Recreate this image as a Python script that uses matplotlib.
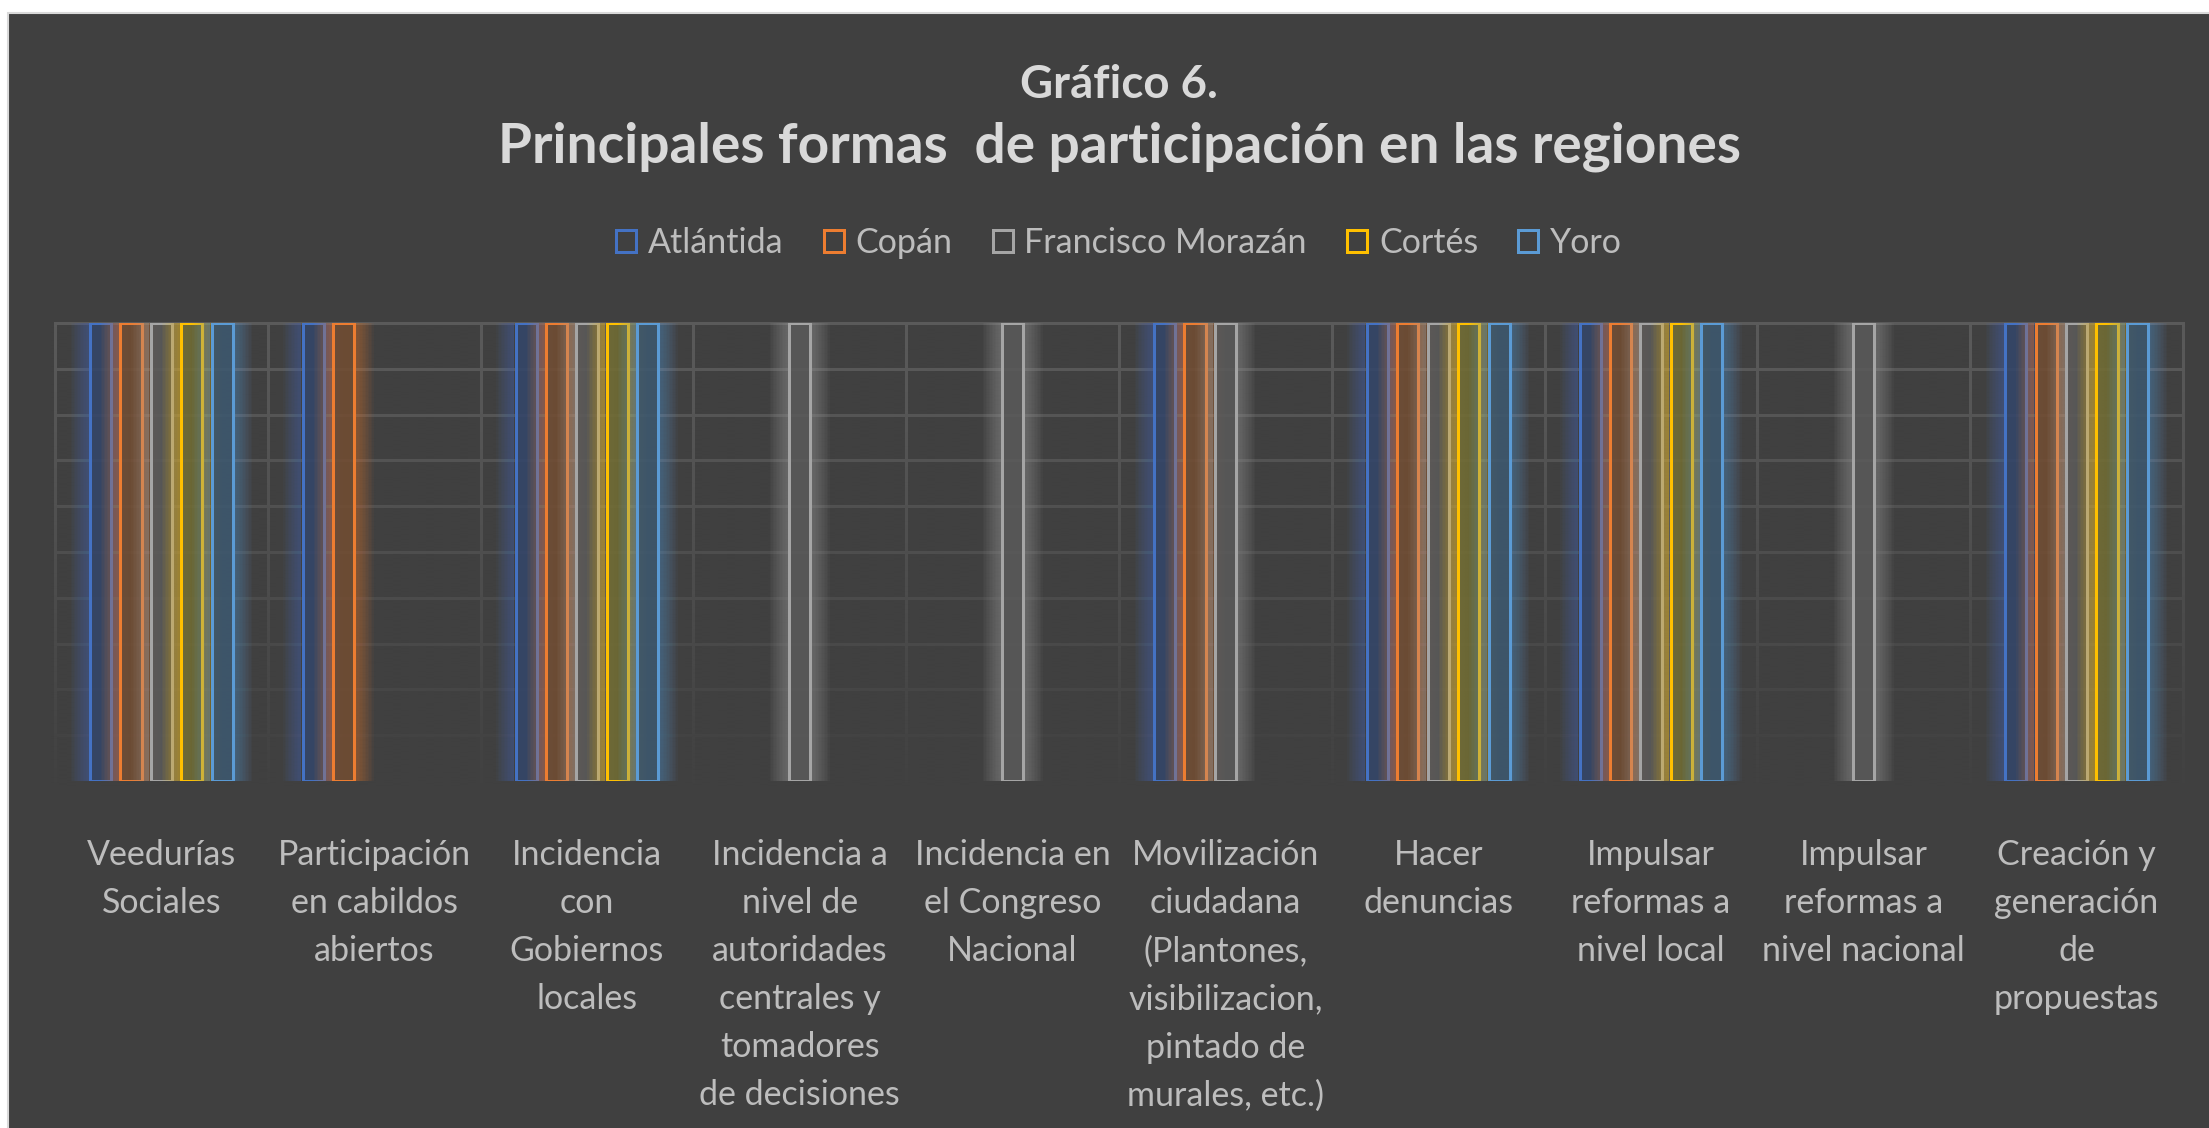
import numpy as np
import matplotlib
matplotlib.use("Agg")
import matplotlib.pyplot as plt
from matplotlib.patches import Patch, Rectangle
from matplotlib.font_manager import FontProperties
from matplotlib.colors import to_rgba

# ---------------- data ----------------
categories = [
    "Veedurías\nSociales",
    "Participación\nen cabildos\nabiertos",
    "Incidencia\ncon\nGobiernos\nlocales",
    "Incidencia a\nnivel de\nautoridades\ncentrales y\ntomadores\nde decisiones",
    "Incidencia en\nel Congreso\nNacional",
    "Movilización\nciudadana\n(Plantones,\nvisibilizacion,\npintado de\nmurales, etc.)",
    "Hacer\ndenuncias",
    "Impulsar\nreformas a\nnivel local",
    "Impulsar\nreformas a\nnivel nacional",
    "Creación y\ngeneración\nde\npropuestas",
]
series_names = ["Atlántida", "Copán", "Francisco Morazán", "Cortés", "Yoro"]
atlantida = [1, 1, 1, 0, 0, 1, 1, 1, 0, 1]
copan = [1, 1, 1, 0, 0, 1, 1, 1, 0, 1]
francisco_morazan = [1, 0, 1, 1, 1, 1, 1, 1, 1, 1]
cortes = [1, 0, 1, 0, 0, 0, 1, 1, 0, 1]
yoro = [1, 0, 1, 0, 0, 0, 1, 1, 0, 1]
series = [atlantida, copan, francisco_morazan, cortes, yoro]

title_line1 = "Gráfico 6."
title_line2 = "Principales formas  de participación en las regiones"

# ---------------- style ----------------
edge_colors = ["#4472C4", "#ED7D31", "#A5A5A5", "#FFC000", "#5B9BD5"]
fill_colors = ["#34466A", "#724D32", "#5A5A5A", "#716C33", "#3D586F"]
BG = "#404040"
GRID = "#5A5A5A"
TITLE_C = "#D9D9D9"
TEXT_C = "#BDBDBD"
FONT = ["Lato", "DejaVu Sans"]

W, H, DPI = 2209, 1128, 100
fig = plt.figure(figsize=(W / DPI, H / DPI), dpi=DPI, facecolor="white")
fig.patches.append(Rectangle((8 / W, -0.05), 1.2, 1.05 - 12.5 / H,
                             transform=fig.transFigure, facecolor=BG,
                             edgecolor="#D9D9D9", lw=1.5, zorder=-10))
renderer = fig.canvas.get_renderer()


def text_w(s, size, weight="normal"):
    t = fig.text(0, 0, s, fontsize=size, family=FONT, fontweight=weight)
    w = t.get_window_extent(renderer).width
    t.remove()
    return w


def fit(s, target, weight="normal"):
    return 20.0 * target / text_w(s, 20, weight)


# plot area in pixels
L, R, T, B = 55, 2183, 323, 781
ax = fig.add_axes([L / W, (H - B) / H, (R - L) / W, (B - T) / H])
ax.patch.set_visible(False)
for s in ax.spines.values():
    s.set_visible(False)
ncat = len(categories)
px_per_unit = (R - L) / ncat

# grid
grid_lw = 3 * 72 / DPI
for yv in np.arange(1, 11) / 10:
    ax.axhline(yv, color=GRID, lw=grid_lw, zorder=1, clip_on=False)
for xv in np.arange(-0.5, ncat, 1.0):
    ax.axvline(xv, color=GRID, lw=grid_lw, zorder=1, clip_on=False)

# fade of grid towards the bottom
n = 256
img = np.zeros((n, 1, 4))
img[..., :3] = to_rgba(BG)[:3]
img[..., 3] = (np.linspace(0, 1, n) ** 1.1)[:, None] * 0.97
ax.imshow(img, extent=(-0.52, ncat - 0.48, -0.01, 1.0), aspect="auto",
          origin="upper", zorder=1.5, interpolation="bilinear", clip_on=False)
ax.set_xlim(-0.5, ncat - 0.5)
ax.set_ylim(0, 1)

# bars with glow
x = np.arange(ncat)
step = 0.143
bw = 0.099
lw_px = 3
lw_pt = lw_px * 72 / DPI
glow_px, NG, ga = 18, 12, 0.045
for i, (vals, ec, fc) in enumerate(zip(series, edge_colors, fill_colors)):
    v = np.array(vals, dtype=float)
    m = v > 0
    xi = x[m] + (i - 2) * step
    vi = v[m]
    z = 3 + 2 * i
    outer = bw / 2 + (lw_px / 2) / px_per_unit
    for k in range(1, NG + 1):
        gw = k * (glow_px / NG) / px_per_unit
        ax.bar(xi - outer - gw / 2, vi, width=gw, color=ec, alpha=ga, lw=0, zorder=z)
        ax.bar(xi + outer + gw / 2, vi, width=gw, color=ec, alpha=ga, lw=0, zorder=z)
    ax.bar(xi, vi, width=bw, facecolor=to_rgba(fc, 0.88), edgecolor=ec,
           lw=lw_pt, zorder=z + 1)

# x tick labels
lab_size = np.mean([fit("Participación", 188), fit("de decisiones", 206), fit("Veedurías", 150)])
fp = FontProperties(family=FONT, size=lab_size)
_, lp_h, lp_d = renderer.get_text_width_height_descent("lp", fp, ismath=False)
asc = lp_h - lp_d
linesp = 47.0 / asc * 0.895
first_baseline = 865
pad_px = first_baseline - asc - B
ax.set_xticks(x)
ax.set_xticklabels(categories, fontsize=lab_size, family=FONT, color=TEXT_C,
                   linespacing=linesp)
ax.set_yticks([])
ax.tick_params(axis="x", length=0, pad=pad_px * 72 / DPI)

# titles
cx = (L + R) / 2 / W
s1 = fit(title_line1, 198, "bold")
s2 = fit(title_line2, 1244, "bold")
fig.text(cx, 1 - 98 / H, title_line1, fontsize=s1, fontweight="bold",
         family=FONT, color=TITLE_C, ha="center", va="baseline")
fig.text(cx, 1 - 163 / H, title_line2, fontsize=s2, fontweight="bold",
         family=FONT, color=TITLE_C, ha="center", va="baseline")

# legend
leg_size = fit("Francisco Morazán", 282)
Fpx = leg_size * DPI / 72
handles = [Patch(facecolor=BG, edgecolor=c, lw=lw_pt) for c in edge_colors]
fig.legend(handles, series_names, loc="center", ncol=5, frameon=False,
           bbox_to_anchor=(cx, 1 - 243 / H),
           prop=FontProperties(family=FONT, size=leg_size), labelcolor=TEXT_C,
           handlelength=20 / Fpx, handleheight=20 / Fpx,
           handletextpad=12 / Fpx, columnspacing=40 / Fpx,
           borderpad=0, borderaxespad=0)

fig.savefig("out.png", dpi=DPI, facecolor="white")
